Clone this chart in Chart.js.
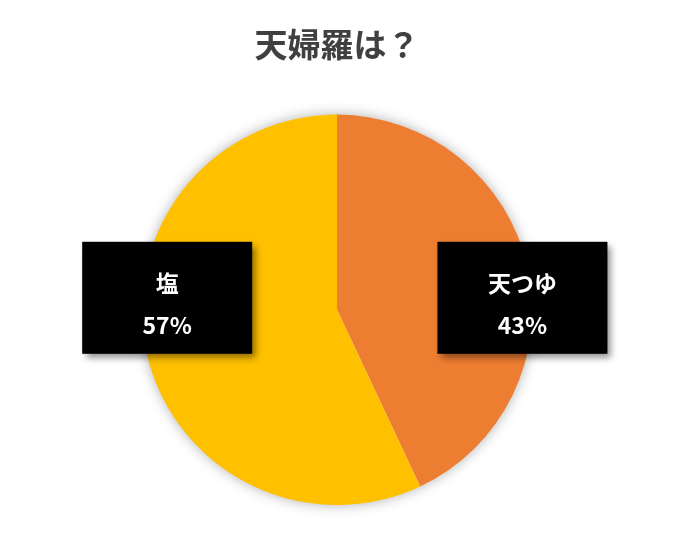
<!DOCTYPE html>
<html>
<head>
<meta charset="utf-8">
<script src="https://cdn.jsdelivr.net/npm/chart.js@4/dist/chart.umd.min.js"></script>
<style>
  html, body { margin: 0; padding: 0; background: #fff; }
  #wrap { width: 684px; height: 539px; }
</style>
</head>
<body>
<div id="wrap"><canvas id="pie"></canvas></div>
<script>
const chartTitle = '天婦羅は？'
const labels = ['天つゆ', '塩']
const values = [43, 57]
const colors = ['#ED7D31', '#FFC000']

const fontFamily = '"Noto Sans CJK JP", "Noto Sans", sans-serif'

// soft grey halo behind the pie
const pieShadow = {
	id: 'pieShadow',
	beforeDatasetsDraw(chart) {
		const arc = chart.getDatasetMeta(0).data[0]
		if (!arc) return
		const ctx = chart.ctx
		ctx.save()
		ctx.shadowColor = 'rgba(0,0,0,0.35)'
		ctx.shadowBlur = 14
		ctx.fillStyle = '#fff'
		ctx.beginPath()
		ctx.arc(arc.x, arc.y, arc.outerRadius - 1, 0, Math.PI * 2)
		ctx.fill()
		ctx.restore()
	}
}

// black label boxes beside the pie
const boxLabels = {
	id: 'boxLabels',
	afterDraw(chart) {
		const ctx = chart.ctx
		const meta = chart.getDatasetMeta(0)
		const total = values.reduce((a, b) => a + b, 0)
		meta.data.forEach((arc, i) => {
			const mid = (arc.startAngle + arc.endAngle) / 2
			const right = Math.cos(mid) >= 0
			const cx = arc.x + (right ? 0.95 : -0.87) * arc.outerRadius
			const cy = arc.y - 12
			const w = 170
			const h = 112
			ctx.save()
			ctx.shadowColor = 'rgba(0,0,0,0.45)'
			ctx.shadowBlur = 7
			ctx.shadowOffsetX = 4
			ctx.shadowOffsetY = 4
			ctx.fillStyle = '#000'
			ctx.fillRect(cx - w / 2, cy - h / 2, w, h)
			ctx.restore()

			ctx.save()
			ctx.fillStyle = '#fff'
			ctx.textAlign = 'center'
			ctx.textBaseline = 'middle'
			ctx.font = 'bold 23px ' + fontFamily
			ctx.fillText(labels[i], cx, cy - 15)
			const pct = Math.round(values[i] / total * 100) + '%'
			ctx.fillText(pct, cx, cy + 27)
			ctx.restore()
		})
	}
}

new Chart(document.getElementById('pie'), {
	type: 'pie',
	data: {
		labels: labels,
		datasets: [{
			data: values,
			backgroundColor: colors,
			borderWidth: 0
		}]
	},
	options: {
		responsive: true,
		maintainAspectRatio: false,
		animation: false,
		layout: {
			padding: { top: 0, bottom: 34, left: 0, right: 10 }
		},
		plugins: {
			legend: { display: false },
			tooltip: { enabled: false },
			title: {
				display: true,
				text: chartTitle,
				color: '#404040',
				font: { family: fontFamily, size: 33, weight: 'bold', lineHeight: 1.2 },
				padding: { top: 25, bottom: 50 }
			}
		}
	},
	plugins: [pieShadow, boxLabels]
})
</script>
</body>
</html>
